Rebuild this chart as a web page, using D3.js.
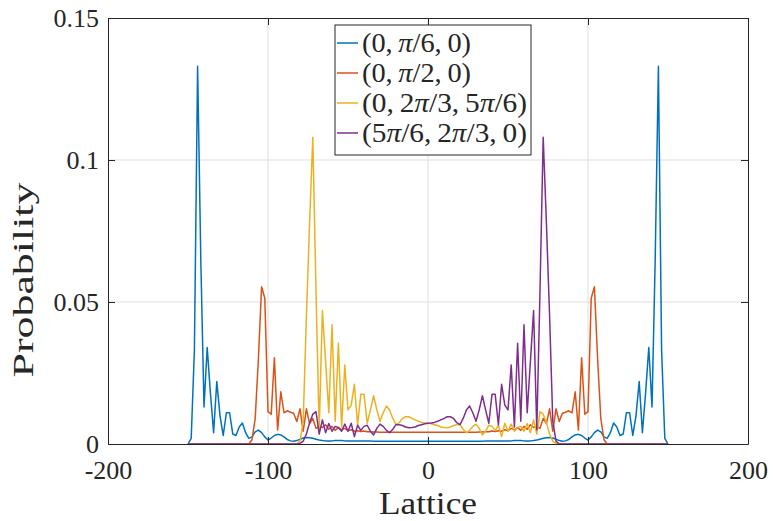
<!DOCTYPE html>
<html>
<head>
<meta charset="utf-8">
<script src="https://cdn.jsdelivr.net/npm/d3@7"></script>
<style>
  html, body { margin: 0; padding: 0; background: #fff; }
  text { font-family: "Liberation Serif", "DejaVu Serif", serif; fill: #262626; }
</style>
</head>
<body>
<svg id="chart" width="773" height="521"></svg>
<script>
(function () {
    'use strict';

    // lattice sites (every second site, -150 ... 150)
    var lattice = d3.range(-150, 151, 2);

    var xTicks = [-200, -100, 0, 100, 200];
    var yTicks = [0, 0.05, 0.1, 0.15];
    var yTickLabels = ['0', '0.05', '0.1', '0.15'];

    var seriesNames = ['(0,\u2009\u03c0/6,\u20090)', '(0,\u2009\u03c0/2,\u20090)',
        '(0,\u20092\u03c0/3,\u20095\u03c0/6)', '(5\u03c0/6,\u20092\u03c0/3,\u20090)'];
    var seriesColors = ['#0072BD', '#D95319', '#EDB120', '#7E2F8E'];
    var legendTextWidths = [109, 109, 165, 165];

    // (0, pi/6, 0)
    var probA = [
        0, 0.002, 0.033, 0.133, 0.065, 0.013, 0.034, 0.018, 0.004, 0.022,
        0.010, 0.003, 0.011, 0.011, 0.0035, 0.003, 0.006, 0.0074, 0.004, 0.002,
        0.0025, 0.0043, 0.0049, 0.004, 0.0025, 0.0014, 0.0021, 0.003, 0.0034, 0.0032,
        0.0025, 0.0016, 0.0011, 0.001, 0.0012, 0.0017, 0.0021, 0.0023, 0.0022, 0.002,
        0.0017, 0.0014, 0.0012, 0.0011, 0.0011, 0.0011, 0.0012, 0.0012, 0.0012, 0.0011,
        0.0011, 0.0011, 0.0011, 0.0011, 0.0011, 0.0011, 0.0011, 0.0011, 0.001, 0.001,
        0.001, 0.001, 0.001, 0.001, 0.001, 0.001, 0.001, 0.001, 0.001, 0.001,
        0.001, 0.001, 0.001, 0.001, 0.001, 0.001,
        0.001, 0.001, 0.001, 0.001, 0.001,
        0.001, 0.001, 0.001, 0.001, 0.001, 0.001, 0.001, 0.001, 0.001, 0.001,
        0.001, 0.001, 0.0011, 0.0011, 0.0011, 0.0011, 0.0011, 0.0011, 0.0011, 0.0011,
        0.0011, 0.0012, 0.0012, 0.0012, 0.0011, 0.0011, 0.0011, 0.0012, 0.0014, 0.0017,
        0.002, 0.0022, 0.0023, 0.0021, 0.0017, 0.0012, 0.001, 0.0011, 0.0016, 0.0025,
        0.0032, 0.0034, 0.003, 0.0021, 0.0014, 0.0025, 0.004, 0.0049, 0.0043, 0.0025,
        0.002, 0.004, 0.0074, 0.006, 0.003, 0.0035, 0.011, 0.011, 0.003, 0.010,
        0.022, 0.004, 0.018, 0.034, 0.013, 0.065, 0.133, 0.033, 0.002, 0
    ];

    // (0, pi/2, 0)
    var probB = [
        0, 0, 0, 0, 0, 0, 0, 0, 0, 0,
        0, 0, 0, 0, 0, 0, 0, 0, 0, 0,
        0.0015, 0.009, 0.03, 0.0554, 0.0513, 0.0114, 0.0105, 0.0304, 0.0049, 0.0184,
        0.011, 0.0117, 0.0112, 0.0108, 0.0079, 0.0124, 0.0045, 0.0124, 0.0072, 0.009,
        0.0055, 0.0062, 0.0058, 0.0068, 0.0052, 0.0062, 0.0048, 0.0058, 0.005, 0.0055,
        0.0047, 0.005, 0.0045, 0.0047, 0.0044, 0.0046, 0.0043, 0.0043, 0.0042, 0.0042,
        0.0041, 0.0041, 0.0041, 0.0041, 0.0041, 0.0041, 0.0041, 0.0041, 0.0041, 0.0041,
        0.0041, 0.0041, 0.0041, 0.0041, 0.0041, 0.0041,
        0.0041, 0.0041, 0.0041, 0.0041, 0.0041,
        0.0041, 0.0041, 0.0041, 0.0041, 0.0041, 0.0041, 0.0041, 0.0041, 0.0041, 0.0041,
        0.0042, 0.0042, 0.0043, 0.0043, 0.0046, 0.0044, 0.0047, 0.0045, 0.005, 0.0047,
        0.0055, 0.005, 0.0058, 0.0048, 0.0062, 0.0052, 0.0068, 0.0058, 0.0062, 0.0055,
        0.009, 0.0072, 0.0124, 0.0045, 0.0124, 0.0079, 0.0108, 0.0112, 0.0117, 0.011,
        0.0184, 0.0049, 0.0304, 0.0105, 0.0114, 0.0513, 0.0554, 0.03, 0.009, 0.0015,
        0, 0, 0, 0, 0, 0, 0, 0, 0, 0,
        0, 0, 0, 0, 0, 0, 0, 0, 0, 0
    ];

    // (0, 2pi/3, 5pi/6)
    var probC = [
        0, 0, 0, 0, 0, 0, 0, 0, 0, 0,
        0, 0, 0, 0, 0, 0, 0, 0, 0, 0,
        0, 0, 0, 0, 0, 0, 0, 0, 0, 0,
        0, 0, 0, 0, 0,
        0.001, 0.008, 0.045, 0.078, 0.108, 0.054, 0.005, 0.047, 0.029, 0.011,
        0.042, 0.008, 0.0355, 0.006, 0.0278, 0.012, 0.0137, 0.021, 0.0067, 0.0175,
        0.0175, 0.0073, 0.012, 0.017, 0.012, 0.008, 0.011, 0.0134, 0.012, 0.009,
        0.0068, 0.0075, 0.009, 0.0096, 0.0096, 0.009, 0.0085, 0.008, 0.0076, 0.0074,
        0.0073,
        0.0071, 0.0068, 0.0065, 0.006, 0.0058, 0.0057, 0.006, 0.0065, 0.0068, 0.0068,
        0.0052, 0.004, 0.0048, 0.0062, 0.007, 0.0055, 0.0032, 0.0045, 0.0066, 0.0062,
        0.0048, 0.0066, 0.0026, 0.0073, 0.0045, 0.007, 0.0045, 0.0058, 0.0062, 0.0045,
        0.0072, 0.004, 0.0085, 0.0035, 0.0114, 0.0105, 0.0075, 0.0035, 0.001, 0.0002,
        0, 0, 0, 0, 0, 0, 0, 0, 0, 0,
        0, 0, 0, 0, 0, 0, 0, 0, 0, 0,
        0, 0, 0, 0, 0, 0, 0, 0, 0, 0,
        0, 0, 0, 0, 0
    ];

    // (5pi/6, 2pi/3, 0)
    var probD = [
        0, 0, 0, 0, 0, 0, 0, 0, 0, 0,
        0, 0, 0, 0, 0, 0, 0, 0, 0, 0,
        0, 0, 0, 0, 0, 0, 0, 0, 0, 0,
        0, 0, 0, 0, 0,
        0.0002, 0.001, 0.0035, 0.0075, 0.0105, 0.0114, 0.0035, 0.0085, 0.004, 0.0072,
        0.0045, 0.0062, 0.0058, 0.0045, 0.007, 0.0045, 0.0073, 0.0026, 0.0066, 0.0048,
        0.0062, 0.0066, 0.0045, 0.0032, 0.0055, 0.007, 0.0062, 0.0048, 0.004, 0.0052,
        0.0068, 0.0068, 0.0065, 0.006, 0.0057, 0.0058, 0.006, 0.0065, 0.0068, 0.0071,
        0.0073,
        0.0074, 0.0076, 0.008, 0.0085, 0.009, 0.0096, 0.0096, 0.009, 0.0075, 0.0068,
        0.009, 0.012, 0.0134, 0.011, 0.008, 0.012, 0.017, 0.012, 0.0073, 0.0175,
        0.0175, 0.0067, 0.021, 0.0137, 0.012, 0.0278, 0.006, 0.0355, 0.008, 0.042,
        0.011, 0.029, 0.047, 0.005, 0.054, 0.108, 0.078, 0.045, 0.008, 0.001,
        0, 0, 0, 0, 0, 0, 0, 0, 0, 0,
        0, 0, 0, 0, 0, 0, 0, 0, 0, 0,
        0, 0, 0, 0, 0, 0, 0, 0, 0, 0,
        0, 0, 0, 0, 0
    ];

    var seriesValues = [probA, probB, probC, probD];

    var axisColor = '#262626';
    var gridColor = '#dfdfdf';
    var tickLength = 7;

    var left = 108, right = 748, top = 18, bottom = 444;

    var svg = d3.select('#chart');

    var x = d3.scaleLinear().domain([-200, 200]).range([left, right]);
    var y = d3.scaleLinear().domain([0, 0.15]).range([bottom, top]);

    // grid
    svg.append('g').selectAll('line')
        .data(xTicks.slice(1, -1))
        .enter().append('line')
        .attr('x1', function (d) { return x(d); })
        .attr('x2', function (d) { return x(d); })
        .attr('y1', top).attr('y2', bottom)
        .attr('stroke', gridColor).attr('stroke-width', 1);

    svg.append('g').selectAll('line')
        .data(yTicks.slice(1, -1))
        .enter().append('line')
        .attr('x1', left).attr('x2', right)
        .attr('y1', function (d) { return y(d); })
        .attr('y2', function (d) { return y(d); })
        .attr('stroke', gridColor).attr('stroke-width', 1);

    // series
    var line = d3.line()
        .x(function (d, i) { return x(lattice[i]); })
        .y(function (d) { return y(d); });

    seriesValues.forEach(function (values, k) {
        svg.append('path')
            .datum(values)
            .attr('d', line)
            .attr('fill', 'none')
            .attr('stroke', seriesColors[k])
            .attr('stroke-width', 1.5)
            .attr('stroke-linejoin', 'round');
    });

    // axes (box with inward ticks on all four sides)
    var xAxisBottom = d3.axisBottom(x).tickValues(xTicks).tickSizeInner(-tickLength).tickSizeOuter(0)
        .tickPadding(17).tickFormat(d3.format('d'));
    var xAxisTop = d3.axisTop(x).tickValues(xTicks).tickSizeInner(-tickLength).tickSizeOuter(0)
        .tickFormat('');
    var yAxisLeft = d3.axisLeft(y).tickValues(yTicks).tickSizeInner(-tickLength).tickSizeOuter(0)
        .tickPadding(9).tickFormat(function (d, i) { return yTickLabels[i]; });
    var yAxisRight = d3.axisRight(y).tickValues(yTicks).tickSizeInner(-tickLength).tickSizeOuter(0)
        .tickFormat('');

    function styleAxis(g) {
        g.select('.domain').attr('stroke', axisColor).attr('stroke-width', 1);
        g.selectAll('.tick line').attr('stroke', axisColor).attr('stroke-width', 1);
        g.selectAll('.tick text')
            .attr('font-family', '"Liberation Serif", serif')
            .attr('font-size', 26)
            .attr('fill', axisColor);
    }

    svg.append('g').attr('transform', 'translate(0,' + bottom + ')').call(xAxisBottom).call(styleAxis);
    svg.append('g').attr('transform', 'translate(0,' + top + ')').call(xAxisTop).call(styleAxis);
    svg.append('g').attr('transform', 'translate(' + left + ',0)').call(yAxisLeft).call(styleAxis);
    svg.append('g').attr('transform', 'translate(' + right + ',0)').call(yAxisRight).call(styleAxis);

    // plain hyphen for negative x ticks, as in the reference
    svg.selectAll('.tick text').text(function () { return d3.select(this).text().replace('\u2212', '-'); });

    // axis labels
    svg.append('text')
        .attr('x', (left + right) / 2)
        .attr('y', 514)
        .attr('text-anchor', 'middle')
        .attr('font-size', 31)
        .attr('textLength', 98)
        .attr('lengthAdjust', 'spacingAndGlyphs')
        .text('Lattice');

    svg.append('text')
        .attr('transform', 'translate(33,' + ((top + bottom) / 2 + 49) + ') rotate(-90)')
        .attr('text-anchor', 'middle')
        .attr('font-size', 30)
        .attr('textLength', 195)
        .attr('lengthAdjust', 'spacingAndGlyphs')
        .text('Probability');

    // legend
    var legendX = 335, legendY = 25, legendW = 196, legendH = 130, rowH = 30;
    var legend = svg.append('g');
    legend.append('rect')
        .attr('x', legendX).attr('y', legendY)
        .attr('width', legendW).attr('height', legendH)
        .attr('fill', '#fff').attr('stroke', axisColor).attr('stroke-width', 1);

    var rows = legend.selectAll('g.row')
        .data(seriesNames)
        .enter().append('g')
        .attr('class', 'row')
        .attr('transform', function (d, i) { return 'translate(' + legendX + ',' + (legendY + 18 + i * rowH) + ')'; });

    rows.append('line')
        .attr('x1', 2).attr('x2', 23)
        .attr('y1', 0).attr('y2', 0)
        .attr('stroke', function (d, i) { return seriesColors[i]; })
        .attr('stroke-width', 1.5);

    rows.append('text')
        .attr('x', 27)
        .attr('y', 0)
        .attr('dy', '0.34em')
        .attr('font-size', 27)
        .attr('textLength', function (d, i) { return legendTextWidths[i]; })
        .attr('lengthAdjust', 'spacingAndGlyphs')
        .each(function (d) {
            var t = d3.select(this);
            d.split(/(\u03c0)/).forEach(function (part) {
                if (!part) return;
                t.append('tspan')
                    .attr('font-style', part === '\u03c0' ? 'italic' : 'normal')
                    .text(part);
            });
        });
})();
</script>
</body>
</html>
